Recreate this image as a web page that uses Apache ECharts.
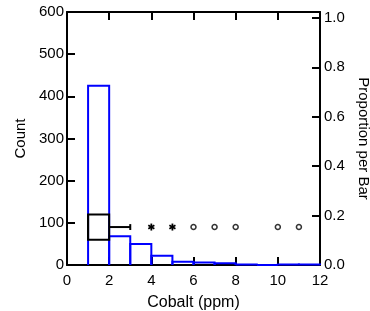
<!DOCTYPE html>
<html>
<head>
<meta charset="utf-8">
<script src="https://cdn.jsdelivr.net/npm/echarts@6/dist/echarts.min.js"></script>
<style>
html,body{margin:0;padding:0;background:#fff;}
#chart{width:370px;height:311px;}
</style>
</head>
<body>
<div id="chart"></div>
<script>
// ---- data ----
const binStarts = [1, 2, 3, 4, 5, 6, 7, 8, 9, 10, 11];
const binWidth = 1;
const counts = [425, 68, 50, 22, 8, 6, 4, 1, 0, 1, 1];
const xTicks = [0, 2, 4, 6, 8, 10, 12];
const countTicks = [0, 100, 200, 300, 400, 500, 600];
const propTicks = [0.0, 0.2, 0.4, 0.6, 0.8, 1.0];
// box plot summary (Cobalt ppm)
const boxQ1 = 1, boxMedian = 1, boxQ3 = 2, whiskerLow = 1, whiskerHigh = 3;
const outsideValues = [4, 5];        // asterisks
const farOutsideValues = [6, 7, 8, 10, 11]; // circles
const boxLevel = 90;      // vertical position of the box plot in count units
const boxHalf = 30;
const capHalf = 7;

const total = counts.reduce((a, b) => a + b, 0);
const countMax = 600;
const propMax = countMax / total;

const font = 'Liberation Sans, Arial, sans-serif';
const black = '#000';

const chart = echarts.init(document.getElementById('chart'));

const histData = binStarts.map((b, i) => [b, counts[i]]);

const option = {
  animation: false,
  backgroundColor: '#fff',
  grid: { left: 67, right: 50, top: 12, bottom: 46, containLabel: false, outerBoundsMode: 'none' },
  xAxis: [
    {
      type: 'value', position: 'bottom', min: xTicks[0], max: xTicks[xTicks.length - 1], interval: 2,
      axisLine: { show: true, onZero: false, lineStyle: { color: black, width: 2 } },
      axisTick: { show: true, inside: true, length: 8, lineStyle: { color: black, width: 2 } },
      axisLabel: { color: black, fontSize: 15, fontFamily: font, margin: 8 },
      splitLine: { show: false },
      name: 'Cobalt (ppm)', nameLocation: 'middle', nameGap: 30,
      nameTextStyle: { color: black, fontSize: 16, fontFamily: font }
    },
    {
      type: 'value', position: 'top', min: xTicks[0], max: xTicks[xTicks.length - 1], interval: 2,
      axisLine: { show: true, onZero: false, lineStyle: { color: black, width: 2 } },
      axisTick: { show: true, inside: true, length: 8, lineStyle: { color: black, width: 2 } },
      axisLabel: { show: false },
      splitLine: { show: false }
    }
  ],
  yAxis: [
    {
      type: 'value', position: 'left', min: countTicks[0], max: countTicks[countTicks.length - 1], interval: 100,
      axisLine: { show: true, onZero: false, lineStyle: { color: black, width: 2 } },
      axisTick: { show: true, inside: true, length: 8, lineStyle: { color: black, width: 2 } },
      axisLabel: { color: black, fontSize: 15, fontFamily: font, margin: 3 },
      splitLine: { show: false },
      name: 'Count', nameLocation: 'middle', nameGap: 37, nameRotate: 90,
      nameTextStyle: { color: black, fontSize: 15, fontFamily: font }
    },
    {
      type: 'value', position: 'right', min: 0, max: propMax, interval: 0.2,
      axisLine: { show: true, onZero: false, lineStyle: { color: black, width: 2 } },
      axisTick: { show: true, inside: true, length: 8, lineStyle: { color: black, width: 2 } },
      axisLabel: {
        color: black, fontSize: 15, fontFamily: font, margin: 4, showMaxLabel: false,
        formatter: v => (propTicks.some(t => Math.abs(t - v) < 1e-6) ? v.toFixed(1) : '')
      },
      splitLine: { show: false },
      name: 'Proportion per Bar', nameLocation: 'middle', nameGap: 36, nameRotate: -90,
      nameTextStyle: { color: black, fontSize: 15, fontFamily: font }
    }
  ],
  series: [
    {
      type: 'custom', xAxisIndex: 0, yAxisIndex: 0, z: 3,
      data: histData,
      renderItem: (params, api) => {
        const x0 = api.value(0), c = api.value(1), x1 = x0 + binWidth;
        const p0 = api.coord([x0, 0]), p1 = api.coord([x0, c]),
              p2 = api.coord([x1, c]), p3 = api.coord([x1, 0]);
        return {
          type: 'polyline',
          shape: { points: [p0, p1, p2, p3] },
          style: { stroke: '#0000ff', lineWidth: 2, fill: null }
        };
      }
    },
    {
      type: 'custom', xAxisIndex: 0, yAxisIndex: 0, z: 5,
      data: [[boxQ1, boxMedian, boxQ3, whiskerLow, whiskerHigh, boxLevel]],
      renderItem: (params, api) => {
        const q1 = api.value(0), med = api.value(1), q3 = api.value(2),
              wl = api.value(3), wh = api.value(4), y = api.value(5);
        const tl = api.coord([q1, y + boxHalf]), br = api.coord([q3, y - boxHalf]);
        const ls = { stroke: black, lineWidth: 2, fill: null };
        const mid = api.coord([q3, y]), end = api.coord([wh, y]);
        const lo = api.coord([wl, y]), q1m = api.coord([q1, y]);
        const capT = api.coord([wh, y + capHalf]), capB = api.coord([wh, y - capHalf]);
        const mT = api.coord([med, y + boxHalf]), mB = api.coord([med, y - boxHalf]);
        return {
          type: 'group',
          children: [
            { type: 'rect', shape: { x: tl[0], y: tl[1], width: br[0] - tl[0], height: br[1] - tl[1] }, style: ls },
            { type: 'line', shape: { x1: mT[0], y1: mT[1], x2: mB[0], y2: mB[1] }, style: ls },
            { type: 'line', shape: { x1: mid[0], y1: mid[1], x2: end[0], y2: end[1] }, style: ls },
            { type: 'line', shape: { x1: capT[0], y1: capT[1], x2: capB[0], y2: capB[1] }, style: ls },
            { type: 'line', shape: { x1: lo[0], y1: lo[1], x2: q1m[0], y2: q1m[1] }, style: ls }
          ]
        };
      }
    },
    {
      type: 'custom', xAxisIndex: 0, yAxisIndex: 0, z: 5,
      data: outsideValues.map(v => [v, boxLevel]),
      renderItem: (params, api) => {
        const p = api.coord([api.value(0), api.value(1)]);
        const r = 3.5;
        const st = { stroke: black, lineWidth: 1.8 };
        const ch = [];
        for (let k = 0; k < 3; k++) {
          const a = Math.PI / 2 + k * Math.PI / 3;
          ch.push({ type: 'line', shape: { x1: p[0] - r * Math.cos(a), y1: p[1] - r * Math.sin(a), x2: p[0] + r * Math.cos(a), y2: p[1] + r * Math.sin(a) }, style: st });
        }
        return { type: 'group', children: ch };
      }
    },
    {
      type: 'scatter', xAxisIndex: 0, yAxisIndex: 0, z: 5,
      data: farOutsideValues.map(v => [v, boxLevel]),
      symbol: 'circle', symbolSize: 5,
      itemStyle: { color: '#fff', borderColor: black, borderWidth: 1.5 }
    }
  ]
};
chart.setOption(option);
</script>
</body>
</html>
